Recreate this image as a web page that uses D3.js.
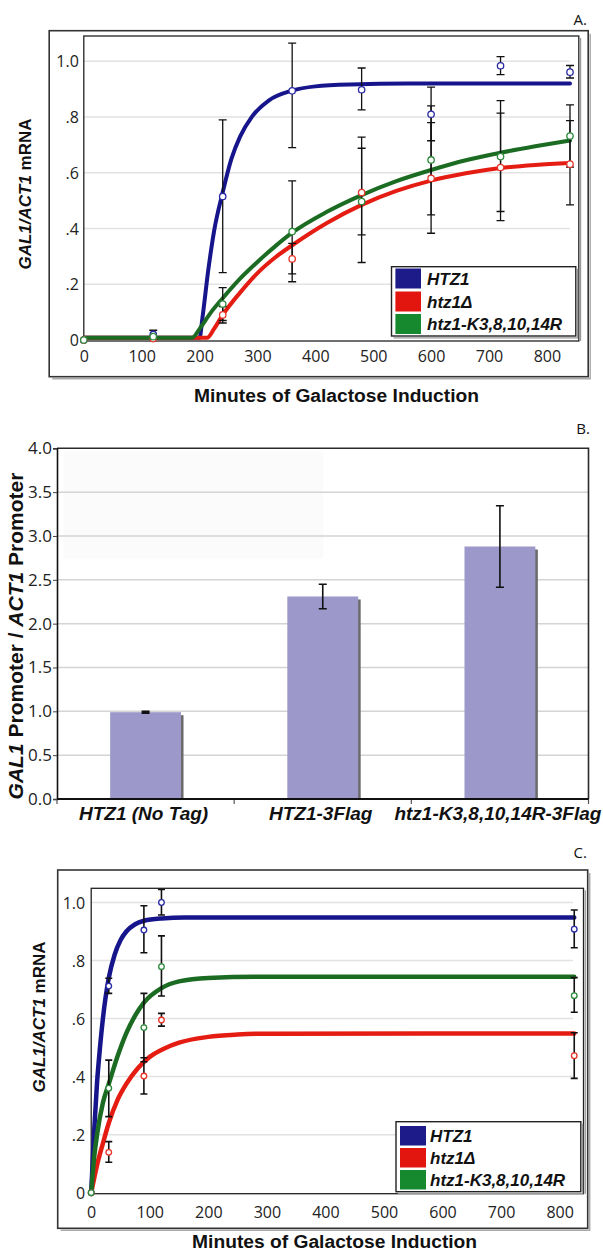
<!DOCTYPE html>
<html><head><meta charset="utf-8">
<script src="https://cdn.jsdelivr.net/npm/d3@7"></script>
<style>body{margin:0;background:#fff} svg{display:block}</style>
</head><body>
<svg id="c" width="603" height="1253"></svg>
<script>
// ---------- Panel A data ----------
const timesA = [0,120,240,360,480,600,720,840];
const htz1A    = [0, 0.02, 0.515, 0.894, 0.898, 0.81, 0.984, 0.961];
const htz1A_lo = [0, 0.005, 0.242, 0.69, 0.826, 0.715, 0.952, 0.94];
const htz1A_hi = [0, 0.035, 0.79, 1.065, 0.976, 0.907, 1.017, 0.985];
const delA    = [0, 0.005, 0.09, 0.291, 0.529, 0.58, 0.619, 0.631];
const delA_lo = [0, 0.005, 0.061, 0.237, 0.377, 0.383, 0.428, 0.485];
const delA_hi = [0, 0.005, 0.12, 0.347, 0.688, 0.78, 0.814, 0.787];
const krA    = [0, 0.012, 0.129, 0.389, 0.497, 0.646, 0.658, 0.732];
const krA_lo = [0, 0.012, 0.07, 0.209, 0.278, 0.449, 0.461, 0.62];
const krA_hi = [0, 0.012, 0.188, 0.571, 0.728, 0.84, 0.859, 0.844];
// fitted curves
const htz1FitA_t = [0,200,205,215,225,240,255,270,290,320,360,400,460,560,840];
const htz1FitA_v = [0.008,0.008,0.08,0.25,0.39,0.53,0.65,0.73,0.8,0.86,0.895,0.91,0.917,0.92,0.92];
const delFitA_t = [0,213,225,240,270,300,330,360,420,480,540,600,660,720,780,840];
const delFitA_v = [0.008,0.008,0.04,0.09,0.17,0.24,0.295,0.34,0.42,0.485,0.535,0.572,0.598,0.617,0.628,0.635];
const krFitA_t = [0,187,200,220,240,270,300,330,360,420,480,540,600,660,720,780,840];
const krFitA_v = [0.008,0.008,0.04,0.1,0.15,0.22,0.28,0.335,0.385,0.46,0.52,0.57,0.61,0.645,0.672,0.695,0.716];
const xTicksA = [0,100,200,300,400,500,600,700,800];
const yTicksA = [0,0.2,0.4,0.6,0.8,1.0];
const yTickLabelsA = ["0",".2",".4",".6",".8","1.0"];

// ---------- Panel B data ----------
const categoriesB = ["HTZ1 (No Tag)","HTZ1-3Flag","htz1-K3,8,10,14R-3Flag"];
const valuesB = [0.99, 2.31, 2.88];
const errB = [0.01, 0.14, 0.465];
const yTicksB = [0,0.5,1,1.5,2,2.5,3,3.5,4];
const yTickLabelsB = ["0.0","0.5","1.0","1.5","2.0","2.5","3.0","3.5","4.0"];

// ---------- Panel C data ----------
const timesC = [0,30,90,120,825];
const htz1C    = [0, 0.712, 0.905, 1.0, 0.908];
const htz1C_lo = [0, 0.687, 0.827, 0.957, 0.844];
const htz1C_hi = [0, 0.739, 0.989, 1.045, 0.974];
const delC    = [0, 0.139, 0.402, 0.595, 0.472];
const delC_lo = [0, 0.105, 0.34, 0.574, 0.394];
const delC_hi = [0, 0.176, 0.465, 0.618, 0.551];
const krC    = [0, 0.36, 0.569, 0.779, 0.679];
const krC_lo = [0, 0.262, 0.451, 0.678, 0.622];
const krC_hi = [0, 0.457, 0.687, 0.885, 0.741];
const htz1FitC_t = [0,5,10,15,20,30,40,50,60,75,90,120,160,825];
const htz1FitC_v = [0,0.21,0.38,0.5,0.6,0.74,0.82,0.87,0.9,0.925,0.937,0.945,0.948,0.948];
const delFitC_t = [0,10,20,30,45,60,80,100,125,150,200,250,300,825];
const delFitC_v = [0,0.095,0.17,0.24,0.32,0.375,0.43,0.468,0.497,0.517,0.537,0.545,0.548,0.549];
const krFitC_t = [0,5,10,20,30,45,60,75,90,120,150,200,300,825];
const krFitC_v = [0,0.12,0.2,0.31,0.375,0.47,0.55,0.61,0.655,0.705,0.728,0.74,0.744,0.744];
const xTicksC = [0,100,200,300,400,500,600,700,800];
const yTicksC = [0,0.2,0.4,0.6,0.8,1.0];
const yTickLabelsC = ["0",".2",".4",".6",".8","1.0"];

const seriesNames = ["HTZ1","htz1\u0394","htz1-K3,8,10,14R"];
const curveColors = ["#16158b","#e41c12","#1b6c22"];
const pointColors = ["#2b2aa6","#e8352c","#2d8a3c"];
const legendColors = ["#1d1a8a","#e2160e","#16892f"];

const svg = d3.select("#c");
svg.append("rect").attr("width",603).attr("height",1253).attr("fill","#fff");

const TICKFONT = "'Open Sans', 'DejaVu Sans', sans-serif";
const BOLDFONT = "'Liberation Sans', Arial, sans-serif";

function lineChart(cfg) {
  const g = svg.append("g");
  const x = d3.scaleLinear().domain(cfg.xDomain).range(cfg.xRange);
  const y = d3.scaleLinear().domain([0,1]).range(cfg.yRange);
  // outer frame with shadow
  const o = cfg.outer;
  g.append("path").attr("d",`M${o.x+o.w+2},${o.y+3} V${o.y+o.h+2} H${o.x+3}`)
    .attr("fill","none").attr("stroke","#aaa").attr("stroke-width",1.5);
  g.append("rect").attr("x",o.x).attr("y",o.y).attr("width",o.w).attr("height",o.h)
    .attr("fill","none").attr("stroke","#333").attr("stroke-width",1.6);
  // gridlines
  g.selectAll(".grid").data(cfg.yTicks.filter(d=>d>0)).join("line")
    .attr("x1",cfg.xRange[0]).attr("x2",cfg.gridEnd)
    .attr("y1",d=>y(d)).attr("y2",d=>y(d))
    .attr("stroke","#e2e2e2").attr("stroke-width",1.5);
  // inner frame
  const ix0 = cfg.xRange[0], iy0 = cfg.innerTop, ix1 = cfg.innerRight, iy1 = y(0)+1;
  g.append("line").attr("x1",ix1+1.8).attr("x2",ix1+1.8).attr("y1",iy0+2).attr("y2",iy1)
    .attr("stroke","#999").attr("stroke-width",1.2);
  g.append("rect").attr("x",ix0).attr("y",iy0).attr("width",ix1-ix0).attr("height",iy1-iy0)
    .attr("fill","none").attr("stroke","#222").attr("stroke-width",1.3);
  // axes (labels only)
  const ax = g.append("g").attr("transform",`translate(0,${cfg.xLabelY})`)
    .call(d3.axisBottom(x).tickValues(cfg.xTicks).tickSize(0).tickPadding(0));
  ax.select(".domain").remove();
  ax.selectAll("text").attr("font-family",TICKFONT).attr("font-size",16).attr("fill","#222").attr("dy",0);
  const ay = g.append("g").attr("transform",`translate(${cfg.xRange[0]},0)`)
    .call(d3.axisLeft(y).tickValues(cfg.yTicks).tickFormat((d,i)=>cfg.yTickLabels[i]).tickSize(0).tickPadding(cfg.yPad));
  ay.select(".domain").remove();
  ay.selectAll("text").attr("font-family",TICKFONT).attr("font-size",16).attr("fill","#222").attr("dy","0.35em");
  // curves
  const line = d3.line().x(d=>x(d[0])).y(d=>y(d[1])).curve(d3.curveMonotoneX);
  cfg.fits.forEach((f,i)=>{
    g.append("path").datum(f.t.map((t,j)=>[t,f.v[j]]))
      .attr("d",line).attr("fill","none").attr("stroke",curveColors[i])
      .attr("stroke-width",cfg.curveW).attr("stroke-linecap","round").attr("stroke-linejoin","round");
  });
  // error bars
  const cw = cfg.capW;
  cfg.series.forEach((s,i)=>{
    cfg.times.forEach((t,j)=>{
      if (s.hi[j]-s.lo[j] < 0.002) return;
      const xx = x(t);
      g.append("path").attr("d",`M${xx},${y(s.lo[j])}V${y(s.hi[j])}M${xx-cw/2},${y(s.lo[j])}H${xx+cw/2}M${xx-cw/2},${y(s.hi[j])}H${xx+cw/2}`)
        .attr("stroke","#111").attr("stroke-width",cfg.errW).attr("fill","none");
    });
  });
  // points
  cfg.series.forEach((s,i)=>{
    g.selectAll(null).data(cfg.times.map((t,j)=>[t,s.v[j]])).join("circle")
      .attr("cx",d=>x(d[0])).attr("cy",d=>y(d[1])).attr("r",cfg.ptR)
      .attr("fill","#fff").attr("stroke",pointColors[i]).attr("stroke-width",1.3);
  });
  // legend
  const L = cfg.legend;
  g.append("path").attr("d",`M${L.x+L.w+1.8},${L.y+2} V${L.y+L.h+1.8} H${L.x+2}`)
    .attr("fill","none").attr("stroke","#999").attr("stroke-width",1.2);
  g.append("rect").attr("x",L.x).attr("y",L.y).attr("width",L.w).attr("height",L.h)
    .attr("fill","#fff").attr("stroke","#222").attr("stroke-width",1.4);
  seriesNames.forEach((n,i)=>{
    g.append("rect").attr("x",L.sx).attr("y",L.rows[i]).attr("width",L.sw).attr("height",L.sh)
      .attr("fill",legendColors[i]);
    g.append("text").attr("x",L.tx).attr("y",L.rows[i]+L.sh/2+6)
      .attr("font-family",BOLDFONT).attr("font-weight","bold").attr("font-style","italic")
      .attr("font-size",17).attr("fill","#111").text(n);
  });
  // axis titles
  g.append("text").attr("x",cfg.xTitle[0]).attr("y",cfg.xTitle[1]).attr("text-anchor","middle")
    .attr("font-family",BOLDFONT).attr("font-weight","bold").attr("font-size",18).attr("fill","#111")
    .attr("textLength",285).attr("lengthAdjust","spacingAndGlyphs")
    .text("Minutes of Galactose Induction");
  const yt = g.append("text").attr("transform",`translate(${cfg.yTitle[0]},${cfg.yTitle[1]}) rotate(-90)`)
    .attr("text-anchor","middle").attr("font-family",BOLDFONT).attr("font-weight","bold")
    .attr("font-size",17).attr("fill","#111");
  yt.append("tspan").attr("font-style","italic").text("GAL1/ACT1");
  yt.append("tspan").text(" mRNA");
  // panel letter
  g.append("text").attr("x",cfg.letter[0]).attr("y",cfg.letter[1]).attr("text-anchor","end")
    .attr("font-family",TICKFONT).attr("font-size",15).attr("fill","#111").text(cfg.letterText);
}

lineChart({
  xDomain:[0,840], xRange:[83.8,570], yRange:[340,61.3],
  outer:{x:49.2,y:30.7,w:539,h:346}, innerTop:36, innerRight:578.8, gridEnd:570,
  xTicks:xTicksA, yTicks:yTicksA, yTickLabels:yTickLabelsA, xLabelY:361.5, yPad:5,
  fits:[{t:htz1FitA_t,v:htz1FitA_v},{t:delFitA_t,v:delFitA_v},{t:krFitA_t,v:krFitA_v}],
  series:[{v:htz1A,lo:htz1A_lo,hi:htz1A_hi},{v:delA,lo:delA_lo,hi:delA_hi},{v:krA,lo:krA_lo,hi:krA_hi}],
  times:timesA, curveW:4, capW:8, errW:1.3, ptR:3.2,
  legend:{x:391.5,y:266.7,w:184.3,h:69.3,sx:395.4,sw:25.6,sh:20,rows:[268.5,291.5,314],tx:427},
  xTitle:[336.5,401.7], yTitle:[30.5,194], letter:[587,25], letterText:"A."
});

lineChart({
  xDomain:[0,800], xRange:[91.2,559.6], yRange:[1192.7,902.5],
  outer:{x:57.7,y:870,w:530,h:358.3}, innerTop:888.3, innerRight:583.5, gridEnd:573,
  xTicks:xTicksC, yTicks:yTicksC, yTickLabels:yTickLabelsC, xLabelY:1217.5, yPad:6,
  fits:[{t:htz1FitC_t,v:htz1FitC_v},{t:delFitC_t,v:delFitC_v},{t:krFitC_t,v:krFitC_v}],
  series:[{v:htz1C,lo:htz1C_lo,hi:htz1C_hi},{v:delC,lo:delC_lo,hi:delC_hi},{v:krC,lo:krC_lo,hi:krC_hi}],
  times:timesC, curveW:4.5, capW:7, errW:1.6, ptR:2.8,
  legend:{x:396,y:1121.7,w:184.8,h:70,sx:400,sw:26,sh:19.5,rows:[1126,1148,1170],tx:430},
  xTitle:[334.6,1248.3], yTitle:[45,1017], letter:[587,858], letterText:"C."
});

// ---------- Panel B ----------
(function(){
  const g = svg.append("g");
  const x0 = 57, x1 = 588.5, yTop = 448.3;
  const x = d3.scaleBand().domain(categoriesB).range([x0,x1]).paddingInner(0.6).paddingOuter(0.3);
  const y = d3.scaleLinear().domain([0,4]).range([799,yTop]);
  g.append("rect").attr("x",63.5).attr("y",451.7).attr("width",260).attr("height",107)
    .attr("fill","#fbfbfb");
  g.selectAll(".gb").data(yTicksB.filter(d=>d>0 && d<4)).join("line")
    .attr("x1",x0).attr("x2",x1).attr("y1",d=>y(d)).attr("y2",d=>y(d))
    .attr("stroke","#d4d4d4").attr("stroke-width",1.5);
  // frame top/right
  g.append("path").attr("d",`M${x0},${yTop}H${x1}V${y(0)}`).attr("fill","none")
    .attr("stroke","#2a2a2a").attr("stroke-width",1.6);
  // bars with shadow
  const bw = x.bandwidth();
  g.selectAll(".bs").data(valuesB).join("rect")
    .attr("x",(d,i)=>x(categoriesB[i])+2.5).attr("y",d=>y(d)+3)
    .attr("width",bw).attr("height",d=>y(0)-y(d)-3).attr("fill","#6b6b6b");
  g.selectAll(".bar").data(valuesB).join("rect")
    .attr("x",(d,i)=>x(categoriesB[i])).attr("y",d=>y(d))
    .attr("width",bw).attr("height",d=>y(0)-y(d)).attr("fill","#9c98ca");
  // error bars
  valuesB.forEach((v,i)=>{
    const cx = x(categoriesB[i]) + bw/2;
    const lo = y(v-errB[i]), hi = y(v+errB[i]);
    g.append("path").attr("d",`M${cx},${lo}V${hi}M${cx-4},${lo}H${cx+4}M${cx-4},${hi}H${cx+4}`)
      .attr("stroke","#111").attr("stroke-width",1.6).attr("fill","none");
  });
  // y axis
  const ay = g.append("g").attr("transform",`translate(${x0},0)`)
    .call(d3.axisLeft(y).tickValues(yTicksB).tickFormat((d,i)=>yTickLabelsB[i]).tickSize(4).tickPadding(1));
  ay.select(".domain").attr("stroke","#111").attr("stroke-width",1.6);
  ay.selectAll(".tick line").attr("stroke","#444");
  ay.selectAll("text").attr("font-family",TICKFONT).attr("font-size",17).attr("fill","#222");
  // bottom axis
  const bounds = [x0, ...categoriesB.map(c=>x(c)+bw/2+x.step()/2)];
  g.selectAll(".bt").data(bounds).join("line")
    .attr("x1",d=>d).attr("x2",d=>d).attr("y1",y(0)).attr("y2",y(0)+5)
    .attr("stroke","#555").attr("stroke-width",1.2);
  g.append("line").attr("x1",x0).attr("x2",x1).attr("y1",y(0)).attr("y2",y(0))
    .attr("stroke","#111").attr("stroke-width",2.2);
  categoriesB.forEach((c,i)=>{
    g.append("text").attr("x",x(c)+bw/2-2).attr("y",820).attr("text-anchor","middle")
      .attr("font-family",BOLDFONT).attr("font-weight","bold").attr("font-style","italic")
      .attr("font-size",19).attr("fill","#111").text(c);
  });
  const yt = g.append("text").attr("transform",`translate(23.3,636) rotate(-90)`)
    .attr("text-anchor","middle").attr("font-family",BOLDFONT).attr("font-weight","bold")
    .attr("font-size",21).attr("fill","#111");
  yt.append("tspan").attr("font-style","italic").text("GAL1");
  yt.append("tspan").text(" Promoter / ");
  yt.append("tspan").attr("font-style","italic").text("ACT1");
  yt.append("tspan").text(" Promoter");
  g.append("text").attr("x",590).attr("y",434).attr("text-anchor","end")
    .attr("font-family",TICKFONT).attr("font-size",15).attr("fill","#111").text("B.");
})();
</script>
</body></html>
